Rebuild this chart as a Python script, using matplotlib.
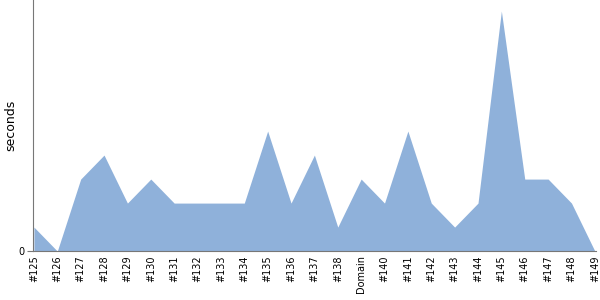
import matplotlib
matplotlib.use('Agg')
from matplotlib import pyplot as plt

labels = ['#125', '#126', '#127', '#128', '#129', '#130', '#131', '#132', '#133',
          '#134', '#135', '#136', '#137', '#138', 'Domain', '#140', '#141', '#142',
          '#143', '#144', '#145', '#146', '#147', '#148', '#149']
seconds = [1, 0, 3, 4, 2, 3, 2, 2, 2, 2, 5, 2, 4, 1, 3, 2, 5, 2, 1, 2, 10, 3, 3, 2, 0]

x = list(range(len(labels)))
fig = plt.figure(figsize=(6, 3), dpi=100)
ax = fig.add_axes([0.055, 0.163, 0.938, 0.837])
ax.fill_between(x, seconds, 0, color='#8fb1da', linewidth=0)
ax.set_xlim(-0.04, len(labels) - 1 + 0.04)
ax.set_ylim(0, 10.46)
ax.set_xticks(x)
ax.set_xticklabels(labels, rotation=90, fontsize=7)
ax.set_yticks([0])
ax.tick_params(axis='x', length=0, pad=3)
ax.tick_params(axis='y', length=4, labelsize=7, color='#777777', pad=2)
ax.set_ylabel('seconds', fontsize=9, labelpad=1)
for s in ['top', 'right']:
    ax.spines[s].set_visible(False)
for s in ['left', 'bottom']:
    ax.spines[s].set_color('#777777')
fig.savefig('out.png', dpi=100)
